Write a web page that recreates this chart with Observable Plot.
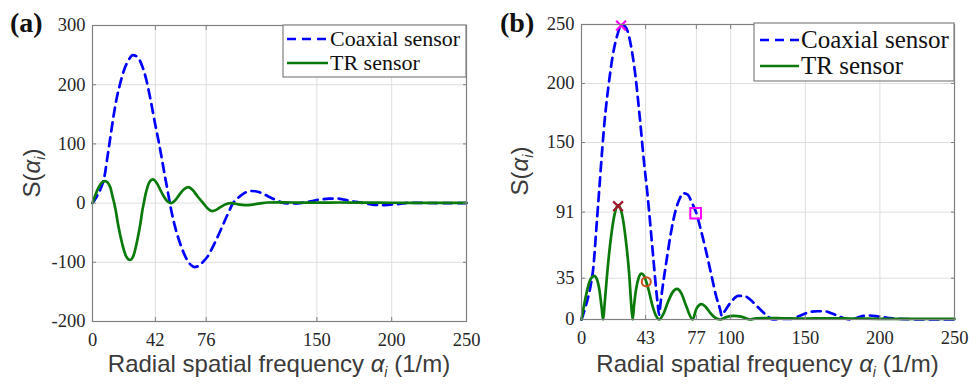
<!DOCTYPE html>
<html><head><meta charset="utf-8">
<script src="https://cdn.jsdelivr.net/npm/d3@7"></script>
<script src="https://cdn.jsdelivr.net/npm/@observablehq/plot@0.6"></script>
<style>
body{margin:0;background:#fff;}
#wrap{position:relative;width:980px;height:385px;overflow:hidden;background:#fff;}
#wrap svg{position:absolute;top:0;}
</style></head><body><div id="wrap"></div>
<script>
// ---- tick labels ----
const xTicksA = [0, 42, 76, 150, 200, 250];
const yTicksA = [-200, -100, 0, 100, 200, 300];
const xTicksB = [0, 43, 77, 100, 150, 200, 250];
const yTicksB = [0, 35, 91, 150, 200, 250];
const seriesNames = ["Coaxial sensor", "TR sensor"];
const panelNames = ["(a)", "(b)"];

// ---- panel (a): signed S(alpha_i) ----
const coaxAX = [0,3,6,8,10,12,14,16,18,21,24,27,30,33,36,39,42,44,46,48,50,52,54,57,60,63,66,68,71,74,77,80,84,87,90,94,97,101,105,109,113,117,121,125,128,134,140,146,152,158,163,168,172,176,181,187,193,199,205,212,220,230,240,250];
const coaxAY = [0,12,28,45,78,112,146,175,197,224,241,250,247,233,208,172,132,107,80,51,24,-4,-28,-56,-78,-95,-105,-108,-106,-99,-90,-76,-55,-38,-21,0,8,16,20.5,20,17,12,7,2.5,0,-0.5,0.5,3,6,7.5,7.8,6,4,2,0,-2.5,-3.4,-2.5,-1.5,0.5,0.3,0,0,0];
const trAX = [0,2,4,6,8.5,10,12,13.5,14.5,15.5,17,20,22.5,25,27.5,30,32,33.3,34.3,35.3,36.5,38.5,40.5,42,43.4,45,47.5,50,52.5,55,58,61,64,67,70,74,77,80,83,86,89,93,97,102,107,112,117,125,135,150,165,180,200,225,250];
const trAY = [0,14,26,34,37,35,26,10,0,-12,-35,-70,-90,-96,-88,-62,-35,-13,0,13,25,37,40,37,32,24,12,3,0,4,14,23,27,22,12,0,-9,-13.5,-11,-6,-2,0,-2,-3.4,-2.5,-0.5,1,1.2,1,0.8,1,0.8,0.6,0.5,0.5];

// ---- panel (b): magnitude |S(alpha_i)| ----
const coaxBX = [0,3,6,8,10,12,14,16,18,21,24,27,30,33,36,39,42,44,46,48,50,51,52,53,54,57,60,63,66,68,71,74,77,80,84,87,90,93,94,95,97,101,105,109,113,117,121,125,128,134,140,146,152,158,163,168,172,176,181,187,193,199,205,212,220,230,240,250];
const coaxBY = [0,12,28,45,78,112,146,175,197,224,241,250,247,233,208,172,132,109,82,54,26,14,4,14,24,50,74,92,103,107,106,99,90,76,55,38,21,8,3,5,9,16,20,20,17,12,7,2.5,0,0.5,0.5,3,6,7,7,5,3,1,0,2.5,3.4,2.5,1.5,0.5,0.3,0,0,0];
const trBX = [0,2,4,6,8.5,10,12,13.5,14.5,15.5,17,20,22.5,24.5,27,30,32,33.3,34.3,35.3,36.5,38.5,40.2,42,43.4,45,47.5,50,52,55,58,61,64,67,70,74.5,77,80.5,83,86,89,93,97,102,107,113,117,125,135,150,165,180,200,225,250];
const trBY = [0,14,26,34,37,35,25,10,0,13,36,72,91,97,90,64,38,13,0,13,25,36,39,37,32,25,12,3,0,5,15,23,26,22,12,0,9,13,11,6,2,0,2,3,2.5,0,1,1.2,1,0.8,1,0.8,0.6,0.5,0.5];

// ---- highlighted points in (b) ----
const crossX = [26.5, 24.5];
const crossY = [249, 96];
const crossColor = ["#ff00ff", "#a3142e"];
const squareX = [76.5];
const squareY = [90];
const circleX = [43.4];
const circleY = [32];

const zip = (xs, ys) => xs.map((x, i) => ({x, y: ys[i]}));

const BLUE = "#0000ff", GREEN = "#0a7a0a", FRAME = "#808080", GRID = "#dedede";
const SERIF = "Liberation Serif";
const SANS = "Liberation Sans";

function panel(o) {
  const marks = [
    Plot.gridX(o.xTicks, {stroke: GRID, strokeOpacity: 1}),
    Plot.gridY(o.yTicks, {stroke: GRID, strokeOpacity: 1}),
    Plot.line(o.coax, {x: "x", y: "y", stroke: BLUE, strokeWidth: 2.7, strokeDasharray: "9,6", curve: "monotone-x"}),
    Plot.line(o.tr, {x: "x", y: "y", stroke: GREEN, strokeWidth: 2.7, curve: "monotone-x"}),
    ...(o.extra || []),
    Plot.frame({stroke: FRAME, strokeWidth: 1.2}),
    Plot.axisX(o.xTicks, {tickSize: 0, tickPadding: 11, tickFormat: d => String(d), fontSize: o.fs, fontFamily: SERIF, fill: "#262626", ariaLabel: "xlabels"}),
    Plot.axisY(o.yTicks, {tickSize: 0, tickPadding: 7, tickFormat: d => String(d), fontSize: o.fs, fontFamily: SERIF, fill: "#262626", ariaLabel: "ylabels"}),
    Plot.axisX(o.xTicks, {tickSize: -4, tickFormat: () => "", stroke: FRAME}),
    Plot.axisX(o.xTicks, {anchor: "top", tickSize: -4, tickFormat: () => "", stroke: FRAME}),
    Plot.axisY(o.yTicks, {tickSize: -4, tickFormat: () => "", stroke: FRAME}),
    Plot.axisY(o.yTicks, {anchor: "right", tickSize: -4, tickFormat: () => "", stroke: FRAME})
  ];
  const svg = Plot.plot({
    width: 490, height: 385,
    marginLeft: o.mL, marginRight: o.mR, marginTop: o.mT, marginBottom: o.mB,
    x: {domain: [0, 250], label: null},
    y: {domain: o.yDomain, label: null},
    style: {fontFamily: SERIF, fontSize: o.fs + "px", color: "#262626", background: "transparent", overflow: "visible"},
    marks
  });
  svg.style.left = o.left + "px";
  const s = d3.select(svg);
  // force serif on every tick label produced by Plot
  s.selectAll("text").style("font-family", `'${SERIF}', serif`).style("font-size", o.fs + "px");
  const W = 490;
  const cx = o.mL + (W - o.mL - o.mR) / 2;
  // x label
  const xl = s.append("text").attr("x", cx).attr("y", o.xlY).attr("text-anchor", "middle")
    .style("font-family", `'${SANS}', sans-serif`).attr("font-size", 24).attr("fill", "#3a3a3a");
  xl.append("tspan").text("Radial spatial frequency ");
  xl.append("tspan").attr("font-style", "italic").text("α");
  xl.append("tspan").attr("font-style", "italic").attr("font-size", 14).attr("dy", 5).text("i");
  xl.append("tspan").attr("dy", -5).text(" (1/m)");
  // y label
  const yl = s.append("text").attr("transform", `translate(${o.ylX},${o.ylY}) rotate(-90)`).attr("text-anchor", "middle")
    .style("font-family", `'${SANS}', sans-serif`).attr("font-size", 24).attr("fill", "#3a3a3a");
  yl.append("tspan").text("S(");
  yl.append("tspan").attr("font-style", "italic").text("α");
  yl.append("tspan").attr("font-style", "italic").attr("font-size", 14).attr("dy", 5).text("i");
  yl.append("tspan").attr("dy", -5).text(")");
  // panel label
  s.append("text").attr("x", 10).attr("y", 32).attr("text-anchor", "start").style("font-family", `'${SERIF}', serif`)
    .attr("font-weight", "bold").attr("font-size", 28).attr("fill", "#111").text(o.name);
  // legend
  const L = o.leg;
  const g = s.append("g");
  g.append("rect").attr("x", L.x).attr("y", L.y).attr("width", L.w).attr("height", L.h)
    .attr("fill", "#fff").attr("stroke", FRAME).attr("stroke-width", 1.2);
  g.append("line").attr("x1", L.lx1).attr("x2", L.lx2).attr("y1", L.r1).attr("y2", L.r1)
    .attr("stroke", BLUE).attr("stroke-width", 2.7).attr("stroke-dasharray", "9,6");
  g.append("line").attr("x1", L.lx1).attr("x2", L.lx2).attr("y1", L.r2).attr("y2", L.r2)
    .attr("stroke", GREEN).attr("stroke-width", 2.7);
  g.append("text").attr("x", L.tx).attr("y", L.r1 + L.off).attr("text-anchor", "start").style("font-family", `'${SERIF}', serif`)
    .attr("font-size", L.fs).attr("fill", "#111").text(seriesNames[0]);
  g.append("text").attr("x", L.tx).attr("y", L.r2 + L.off).attr("text-anchor", "start").style("font-family", `'${SERIF}', serif`)
    .attr("font-size", L.fs).attr("fill", "#111").text(seriesNames[1]);
  document.getElementById("wrap").appendChild(svg);
}

panel({
  name: panelNames[0], left: 0, mL: 92, mR: 24, mT: 25, mB: 64, fs: 18.5,
  yDomain: [-200, 300], xTicks: xTicksA, yTicks: yTicksA,
  coax: zip(coaxAX, coaxAY), tr: zip(trAX, trAY),
  xlY: 372, ylX: 40, ylY: 173,
  leg: {x: 283, y: 25, w: 183, h: 52, lx1: 287, lx2: 328, tx: 330, r1: 39, r2: 63, off: 7, fs: 22}
});

panel({
  name: panelNames[1], left: 490, mL: 91, mR: 26, mT: 24, mB: 66, fs: 18.5,
  yDomain: [0, 250], xTicks: xTicksB, yTicks: yTicksB,
  coax: zip(coaxBX, coaxBY), tr: zip(trBX, trBY),
  xlY: 372, ylX: 38, ylY: 171,
  leg: {x: 264, y: 23, w: 200, h: 58, lx1: 270, lx2: 309, tx: 311, r1: 40, r2: 66, off: 8, fs: 25},
  extra: [
    Plot.dot(crossX.map((x, i) => ({x, y: crossY[i], c: crossColor[i]})), {x: "x", y: "y", symbol: "times", r: 4.5, stroke: "c", strokeWidth: 2.2}),
    Plot.dot(zip(squareX, squareY), {x: "x", y: "y", symbol: "square", r: 6, stroke: "#ff00ff", fill: "none", strokeWidth: 2}),
    Plot.dot(zip(circleX, circleY), {x: "x", y: "y", symbol: "circle", r: 4.5, stroke: "#c8501e", fill: "none", strokeWidth: 2})
  ]
});
</script></body></html>
